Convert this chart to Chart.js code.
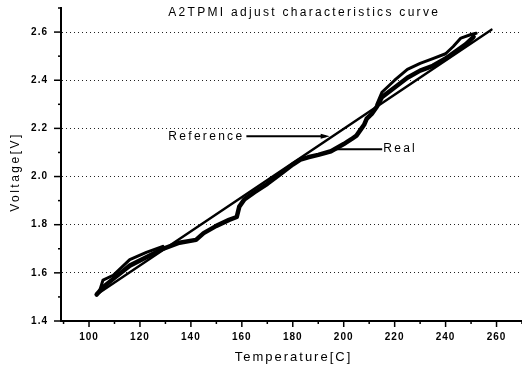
<!DOCTYPE html>
<html>
<head>
<meta charset="utf-8">
<script src="https://cdn.jsdelivr.net/npm/chart.js@4"></script>
<style>
  html, body { margin: 0; padding: 0; background: #fff; }
  canvas { display: block; }
</style>
</head>
<body>
<canvas id="chart" width="522" height="368"></canvas>
<script>
const chartTitle = 'A2TPMI adjust characteristics curve'
const xTitle = 'Temperature[C]'
const yTitle = 'Voltage[V]'

// straight reference line, its two end points
const refTemp = [103, 258]
const refVolt = [1.51, 2.61]

// measured curve, main pass
const realTemp = [103, 105.5, 109.5, 116, 122.5, 129, 135.5, 142, 145, 150, 155, 158, 159, 161, 165, 170, 175, 180, 183, 186, 190, 195, 200, 203, 205, 207, 208, 209, 211, 213, 215, 220, 225, 230, 235, 240, 244, 248, 251]
const realVolt = [1.51, 1.54, 1.575, 1.63, 1.665, 1.70, 1.725, 1.737, 1.765, 1.795, 1.82, 1.832, 1.875, 1.905, 1.935, 1.97, 2.01, 2.05, 2.07, 2.08, 2.09, 2.105, 2.135, 2.155, 2.17, 2.2, 2.215, 2.24, 2.26, 2.29, 2.33, 2.37, 2.41, 2.44, 2.46, 2.49, 2.52, 2.55, 2.58]

// second pass, only where it splits off from the first one
const loopLowTemp = [104, 105.5, 109.5, 116, 122.5, 129]
const loopLowVolt = [1.52, 1.57, 1.59, 1.655, 1.685, 1.71]
const loopHighTemp = [213, 215, 220, 225, 230, 235, 240, 243, 246, 250, 252]
const loopHighVolt = [2.30, 2.35, 2.40, 2.445, 2.47, 2.49, 2.51, 2.54, 2.575, 2.59, 2.595]

// text labels inside the plot: [text, temp, volt]
const refNote = ['Reference', 161, 2.167]
const realNote = ['Real', 215.5, 2.117]

const FONT = '"Liberation Sans", Arial, sans-serif'

function pts(xs, ys) {
  return xs.map((x, i) => ({ x, y: ys[i] }))
}

function curve(data, width) {
  return {
    data,
    showLine: true,
    borderColor: '#000',
    borderWidth: width,
    borderJoinStyle: 'round',
    borderCapStyle: 'round',
    pointRadius: 0,
    tension: 0
  }
}

const decor = {
  id: 'decor',
  beforeDraw(chart) {
    chart.ctx.letterSpacing = '1px'
  },
  afterDraw(chart) {
    const { ctx, chartArea } = chart
    const x = chart.scales.x
    const y = chart.scales.y

    ctx.save()
    ctx.strokeStyle = '#000'
    ctx.fillStyle = '#000'
    ctx.lineWidth = 1.5

    // tick marks, long on labelled values, short between
    for (let v = Math.ceil(x.min / 10) * 10; v <= x.max; v += 10) {
      const px = x.getPixelForValue(v)
      const len = v % 20 === 0 ? 6 : 3
      ctx.beginPath()
      ctx.moveTo(px, chartArea.bottom)
      ctx.lineTo(px, chartArea.bottom + len)
      ctx.stroke()
    }
    for (let k = 14; k <= 27; k++) {
      const py = y.getPixelForValue(k / 10)
      const len = k % 2 === 0 ? 7 : 3
      ctx.beginPath()
      ctx.moveTo(chartArea.left - len, py)
      ctx.lineTo(chartArea.left + 1, py)
      ctx.stroke()
    }

    ctx.textBaseline = 'middle'
    ctx.letterSpacing = '2.3px'
    ctx.font = '12px ' + FONT

    // title inside the plot
    ctx.textAlign = 'center'
    ctx.fillText(chartTitle, x.getPixelForValue(184.5), 13)

    // axis titles
    ctx.font = '13px ' + FONT
    ctx.letterSpacing = '2px'
    ctx.fillText(xTitle, (chartArea.left + chartArea.right) / 2 + 2, 357)
    ctx.save()
    ctx.translate(16, 172)
    ctx.rotate(-Math.PI / 2)
    ctx.letterSpacing = '2.5px'
    ctx.font = '12px ' + FONT
    ctx.fillText(yTitle, 0, 0)
    ctx.restore()

    // curve notes with leader lines
    ctx.font = '12px ' + FONT
    ctx.letterSpacing = '2.3px'
    ctx.textAlign = 'right'
    const rx = x.getPixelForValue(refNote[1])
    const ry = y.getPixelForValue(refNote[2])
    ctx.fillText(refNote[0], rx, ry)
    const tip = x.getPixelForValue(194.5)
    ctx.lineWidth = 2
    ctx.beginPath()
    ctx.moveTo(rx + 2, ry)
    ctx.lineTo(tip - 4, ry)
    ctx.stroke()
    ctx.beginPath()
    ctx.moveTo(tip, ry)
    ctx.lineTo(tip - 9, ry - 2.5)
    ctx.lineTo(tip - 9, ry + 2.5)
    ctx.closePath()
    ctx.fill()

    ctx.textAlign = 'left'
    const lx = x.getPixelForValue(realNote[1])
    const ly = y.getPixelForValue(realNote[2])
    ctx.fillText(realNote[0], lx, ly)
    ctx.beginPath()
    ctx.moveTo(x.getPixelForValue(195.5), y.getPixelForValue(2.112))
    ctx.lineTo(x.getPixelForValue(198), ly + 1)
    ctx.lineTo(lx - 1, ly + 1)
    ctx.stroke()

    ctx.restore()
  }
}

new Chart(document.getElementById('chart'), {
  type: 'scatter',
  data: {
    datasets: [
      curve(pts(refTemp, refVolt), 2.5),
      curve(pts(realTemp, realVolt), 4.5),
      curve(pts(loopLowTemp, loopLowVolt), 3),
      curve(pts(loopHighTemp, loopHighVolt), 3)
    ]
  },
  options: {
    responsive: false,
    animation: false,
    layout: { padding: { top: 8, right: 0, left: 0, bottom: 0 } },
    plugins: {
      legend: { display: false },
      tooltip: { enabled: false }
    },
    scales: {
      x: {
        type: 'linear',
        min: 89,
        max: 270,
        afterFit: s => {
          s.height = 47
          s.paddingLeft = 0
          s.paddingRight = 0
        },
        ticks: {
          stepSize: 10,
          includeBounds: false,
          autoSkip: false,
          maxRotation: 0,
          padding: 2,
          color: '#000',
          font: { family: FONT, size: 10, weight: 'bold' },
          callback: v => (v % 20 === 0 && v >= 100 && v <= 260) ? v : ''
        },
        grid: { display: false },
        border: { color: '#000', width: 2 }
      },
      y: {
        min: 1.4,
        max: 2.7,
        afterFit: s => {
          s.width = 61
          s.paddingTop = 0
          s.paddingBottom = 0
        },
        ticks: {
          stepSize: 0.1,
          includeBounds: false,
          autoSkip: false,
          padding: 13,
          color: '#000',
          font: { family: FONT, size: 10, weight: 'bold' },
          callback: v => {
            const k = Math.round(v * 10)
            return (k % 2 === 0 && k <= 26) ? (k / 10).toFixed(1) : ''
          }
        },
        grid: {
          drawTicks: false,
          lineWidth: 1,
          color: c => {
            const k = Math.round(c.tick.value * 10)
            return (k % 2 === 0 && k > 14 && k <= 26) ? '#222' : 'transparent'
          }
        },
        border: { color: '#000', width: 2, dash: [1, 3] }
      }
    }
  },
  plugins: [decor]
})
</script>
</body>
</html>
